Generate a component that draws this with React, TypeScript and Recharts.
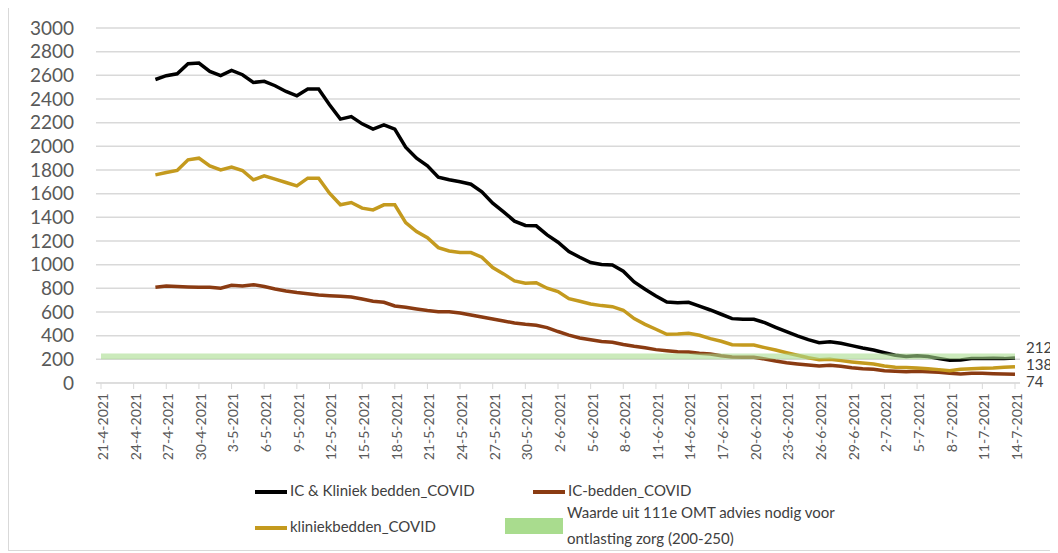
import React from 'react';
import { LineChart, Line, XAxis, YAxis, CartesianGrid, ReferenceArea, Legend } from 'recharts';

// dagen 21-4-2021 t/m 14-7-2021
const datums = [
  '21-4-2021', '22-4-2021', '23-4-2021', '24-4-2021', '25-4-2021', '26-4-2021', '27-4-2021', '28-4-2021', '29-4-2021', '30-4-2021',
  '1-5-2021', '2-5-2021', '3-5-2021', '4-5-2021', '5-5-2021', '6-5-2021', '7-5-2021', '8-5-2021', '9-5-2021', '10-5-2021',
  '11-5-2021', '12-5-2021', '13-5-2021', '14-5-2021', '15-5-2021', '16-5-2021', '17-5-2021', '18-5-2021', '19-5-2021', '20-5-2021',
  '21-5-2021', '22-5-2021', '23-5-2021', '24-5-2021', '25-5-2021', '26-5-2021', '27-5-2021', '28-5-2021', '29-5-2021', '30-5-2021',
  '31-5-2021', '1-6-2021', '2-6-2021', '3-6-2021', '4-6-2021', '5-6-2021', '6-6-2021', '7-6-2021', '8-6-2021', '9-6-2021',
  '10-6-2021', '11-6-2021', '12-6-2021', '13-6-2021', '14-6-2021', '15-6-2021', '16-6-2021', '17-6-2021', '18-6-2021', '19-6-2021',
  '20-6-2021', '21-6-2021', '22-6-2021', '23-6-2021', '24-6-2021', '25-6-2021', '26-6-2021', '27-6-2021', '28-6-2021', '29-6-2021',
  '30-6-2021', '1-7-2021', '2-7-2021', '3-7-2021', '4-7-2021', '5-7-2021', '6-7-2021', '7-7-2021', '8-7-2021', '9-7-2021',
  '10-7-2021', '11-7-2021', '12-7-2021', '13-7-2021', '14-7-2021',
];

const icEnKliniek = [
  null, null, null, null, null,
  2565, 2597, 2613, 2698, 2704, 2633, 2597, 2641, 2605, 2540,
  2549, 2512, 2464, 2427, 2484, 2484, 2351, 2230, 2252, 2190,
  2145, 2182, 2145, 1993, 1900, 1835, 1740, 1717, 1700, 1680,
  1615, 1520, 1446, 1368, 1331, 1328, 1252, 1190, 1111, 1063,
  1018, 1001, 998, 945, 854, 792, 736, 685, 679, 682,
  650, 617, 581, 544, 539, 539, 510, 471, 434, 398,
  366, 341, 349, 336, 316, 296, 279, 256, 234, 224,
  230, 224, 207, 192, 194, 206, 206, 209, 206, 212,
];

const icBedden = [
  null, null, null, null, null,
  809, 820, 815, 812, 809, 809, 801, 826, 820, 831,
  815, 795, 778, 764, 755, 744, 738, 733, 727, 710,
  691, 682, 651, 640, 626, 612, 603, 603, 592, 575,
  558, 541, 524, 507, 496, 488, 468, 435, 405, 380,
  365, 350, 345, 325, 310, 298, 282, 273, 265, 262,
  252, 245, 231, 220, 217, 217, 203, 186, 172, 161,
  152, 144, 150, 141, 129, 121, 116, 104, 99, 96,
  99, 96, 90, 82, 76, 82, 82, 79, 76, 74,
];

const kliniekBedden = [
  null, null, null, null, null,
  1759, 1779, 1796, 1886, 1900, 1835, 1801, 1824, 1796, 1717,
  1751, 1723, 1694, 1666, 1731, 1731, 1604, 1506, 1525, 1478,
  1463, 1506, 1506, 1356, 1280, 1228, 1144, 1116, 1102, 1102,
  1063, 975, 922, 863, 843, 848, 801, 772, 713, 691,
  668, 654, 645, 615, 544, 496, 454, 412, 414, 420,
  403, 375, 353, 324, 321, 321, 299, 279, 256, 234,
  214, 197, 200, 189, 178, 169, 161, 144, 133, 130,
  127, 121, 113, 104, 116, 121, 124, 127, 133, 138,
];

const yTicks = [0, 200, 400, 600, 800, 1000, 1200, 1400, 1600, 1800, 2000, 2200, 2400, 2600, 2800, 3000];

// OMT-advies band
const advLaag = 200;
const advHoog = 250;

const KLEUR_TOTAAL = '#000000';
const KLEUR_IC = '#8a3b12';
const KLEUR_KLINIEK = '#c49a1e';
const KLEUR_BAND = '#a9dc8e';
const FONT = 'Lato, "Open Sans", sans-serif';

const data = datums.map((d, i) => ({
  datum: d,
  totaal: icEnKliniek[i],
  ic: icBedden[i],
  kliniek: kliniekBedden[i],
}));

// label alleen bij het laatste punt (zoals in Excel)
const eindLabel = (dy: number) => (props: any) => {
  const { index, value } = props;
  if (index !== datums.length - 1) return null;
  const px = props.viewBox && props.viewBox.x != null ? props.viewBox.x : props.x;
  const py = props.viewBox && props.viewBox.y != null ? props.viewBox.y : props.y;
  return (
    <text x={px + 11} y={py + dy} dy="0.35em" fill="#404040" fontSize={15} fontFamily={FONT}>
      {value}
    </text>
  );
};

const DatumTick = (props: any) => {
  const { x, y, payload } = props;
  return (
    <g transform={`translate(${x + 2},${y})`}>
      <text transform="rotate(-90)" textAnchor="end" dy="0.35em" fill="#595959" fontSize={14} fontFamily={FONT}>
        {payload.value}
      </text>
    </g>
  );
};

const lijnStaal = (kleur: string) => (
  <span style={{ display: 'inline-block', width: 32, height: 4, background: kleur, marginRight: 3, verticalAlign: 'middle' }} />
);

const LegendaInhoud = () => (
  <div style={{ position: 'relative', height: 68, width: 1040, fontFamily: FONT, fontSize: 15, color: '#404040' }}>
    <div style={{ position: 'absolute', left: 246, top: 0, lineHeight: '20px', whiteSpace: 'nowrap' }}>
      {lijnStaal(KLEUR_TOTAAL)}IC &amp; Kliniek bedden_COVID
    </div>
    <div style={{ position: 'absolute', left: 524, top: 0, lineHeight: '20px', whiteSpace: 'nowrap' }}>
      {lijnStaal(KLEUR_IC)}IC-bedden_COVID
    </div>
    <div style={{ position: 'absolute', left: 246, top: 36, lineHeight: '20px', whiteSpace: 'nowrap' }}>
      {lijnStaal(KLEUR_KLINIEK)}kliniekbedden_COVID
    </div>
    <div style={{ position: 'absolute', left: 496, top: 38, width: 58, height: 16, background: KLEUR_BAND }} />
    <div style={{ position: 'absolute', left: 558, top: 19, lineHeight: '26px', whiteSpace: 'nowrap' }}>
      Waarde uit 111e OMT advies nodig voor<br />ontlasting zorg (200-250)
    </div>
  </div>
);

export default function App() {
  return (
    <div style={{ width: 1044, height: 544, border: '1px solid #d9d9d9', marginTop: -3, background: '#fff' }}>
      <LineChart width={1044} height={544} data={data} margin={{ top: 22, right: 33, left: 0, bottom: 2 }}>
        <CartesianGrid vertical={false} stroke="#d9d9d9" strokeWidth={1.5} />
        <XAxis
          dataKey="datum"
          interval={2}
          height={97}
          padding={{ left: 5, right: 5 }}
          stroke="#d9d9d9"
          tickSize={6}
          tickMargin={4}
          tick={<DatumTick />}
        />
        <YAxis
          domain={[0, 3000]}
          ticks={yTicks}
          interval={0}
          width={87}
          axisLine={false}
          tickLine={false}
          tickSize={0}
          tickMargin={22}
          tick={{ fill: '#595959', fontSize: 19, fontFamily: FONT }}
        />
        <Legend
          verticalAlign="bottom"
          width={1044}
          height={68}
          wrapperStyle={{ left: 0 }}
          content={<LegendaInhoud />}
        />
        <Line
          dataKey="totaal"
          name="IC & Kliniek bedden_COVID"
          stroke={KLEUR_TOTAAL}
          strokeWidth={3.5}
          dot={false}
          isAnimationActive={false}
          label={eindLabel(-10)}
        />
        <Line
          dataKey="ic"
          name="IC-bedden_COVID"
          stroke={KLEUR_IC}
          strokeWidth={3.5}
          dot={false}
          isAnimationActive={false}
          label={eindLabel(8)}
        />
        <Line
          dataKey="kliniek"
          name="kliniekbedden_COVID"
          stroke={KLEUR_KLINIEK}
          strokeWidth={3.5}
          dot={false}
          isAnimationActive={false}
          label={eindLabel(-2)}
        />
        <ReferenceArea y1={advLaag} y2={advHoog} fill={KLEUR_BAND} fillOpacity={0.6} stroke="none" zIndex={700} />
      </LineChart>
    </div>
  );
}
